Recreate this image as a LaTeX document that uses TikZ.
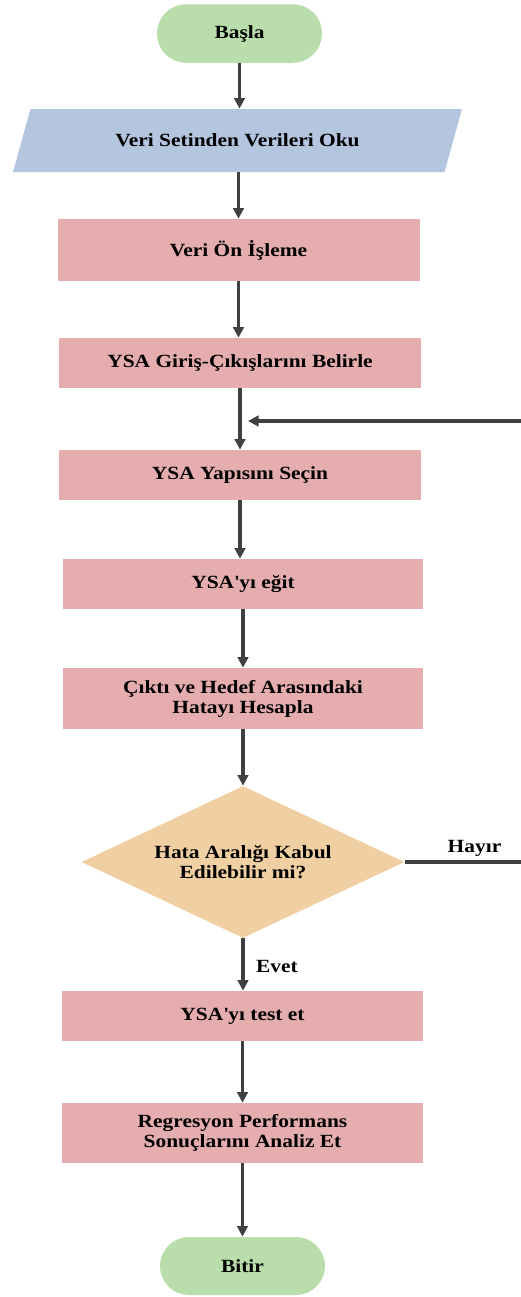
\documentclass[tikz,border=0pt]{standalone}
\usepackage{fontspec}
\setmainfont{Liberation Serif}[FakeStretch=1.15]
\usetikzlibrary{shapes.geometric}
\usetikzlibrary{arrows.meta}

\definecolor{yesil}{RGB}{185,222,172}
\definecolor{mavi}{RGB}{180,197,224}
\definecolor{pembe}{RGB}{229,173,174}
\definecolor{ten}{RGB}{240,208,162}
\definecolor{koyu}{RGB}{64,64,64}

\begin{document}
\begin{tikzpicture}[
        font=\fontsize{10.6}{11.4}\selectfont\bfseries,
        kutu/.style={rectangle, fill=pembe, minimum width=7.24cm, minimum height=1cm, inner sep=0, align=center},
        uc/.style={rectangle, rounded corners=0.58cm, fill=yesil, minimum width=3.3cm, minimum height=1.17cm},
        >={Triangle[length=6pt,width=6pt]},
        akis/.style={->, line width=1.8pt, draw=koyu}
    ]
            \useasboundingbox (0,0) rectangle (10.42,-25.94);
            \node[uc] (basla) at (4.79,-0.67) {Başla};
            \node[trapezium, trapezium left angle=55, trapezium right angle=125, trapezium stretches body,
                fill=mavi, minimum width=8.98cm, minimum height=1.26cm] (oku) at (4.75,-2.81) {Veri Setinden Verileri Oku};
            \node[kutu, minimum height=1.24cm] (onisleme) at (4.77,-5.0) {Veri Ön İşleme};
            \node[kutu] (giris) at (4.8,-7.26) {YSA Giriş-Çıkışlarını Belirle};
            \node[kutu] (yapi) at (4.8,-9.5) {YSA Yapısını Seçin};
            \node[kutu, minimum width=7.2cm] (egit) at (4.86,-11.68) {YSA\textquotesingle yı eğit};
            \node[kutu, minimum width=7.2cm, minimum height=1.22cm] (hata) at (4.86,-13.97) {Çıktı ve Hedef Arasındaki\\ Hatayı Hesapla};
            \node[diamond, aspect=2.1, fill=ten, minimum width=6.46cm, minimum height=3.04cm, inner sep=0, align=center] (karar) at (4.86,-17.24) {Hata Aralığı Kabul\\ Edilebilir mi?};
            \node[kutu, minimum width=7.22cm] (test) at (4.85,-20.32) {YSA\textquotesingle yı test et};
            \node[kutu, minimum width=7.22cm, minimum height=1.2cm] (analiz) at (4.85,-22.66) {Regresyon Performans\\ Sonuçlarını Analiz Et};
            \node[uc, minimum height=1.16cm] (bitir) at (4.85,-25.32) {Bitir};
            \node[] (hayir) at (9.49,-16.96) {Hayır};
            \node[] (evet) at (5.54,-19.32) {Evet};
            \coordinate (kenar) at (10.6,-8.42);
            \coordinate (donus) at (4.96,-8.42);
            % ana akis
            \draw[akis] (basla.south) -- (basla.south |- oku.north);
            \draw[akis] (oku.south -| onisleme.north) -- (onisleme.north);
            \draw[akis] (onisleme.south) -- (onisleme.south |- giris.north);
            \draw[akis] (giris.south) -- (giris.south |- yapi.north);
            \draw[akis] (yapi.south) -- (yapi.south |- egit.north);
            \draw[akis] (egit.south) -- (egit.south |- hata.north);
            \draw[akis] (hata.south) -- (hata.south |- karar.north);
            \draw[akis] (karar.south) -- (karar.south |- test.north);
            \draw[akis] (test.south) -- (test.south |- analiz.north);
            \draw[akis] (analiz.south) -- (analiz.south |- bitir.north);
            % geri donus
            \draw[akis] (karar.east) -| (kenar) -- (donus);
        \end{tikzpicture}
\end{document}
